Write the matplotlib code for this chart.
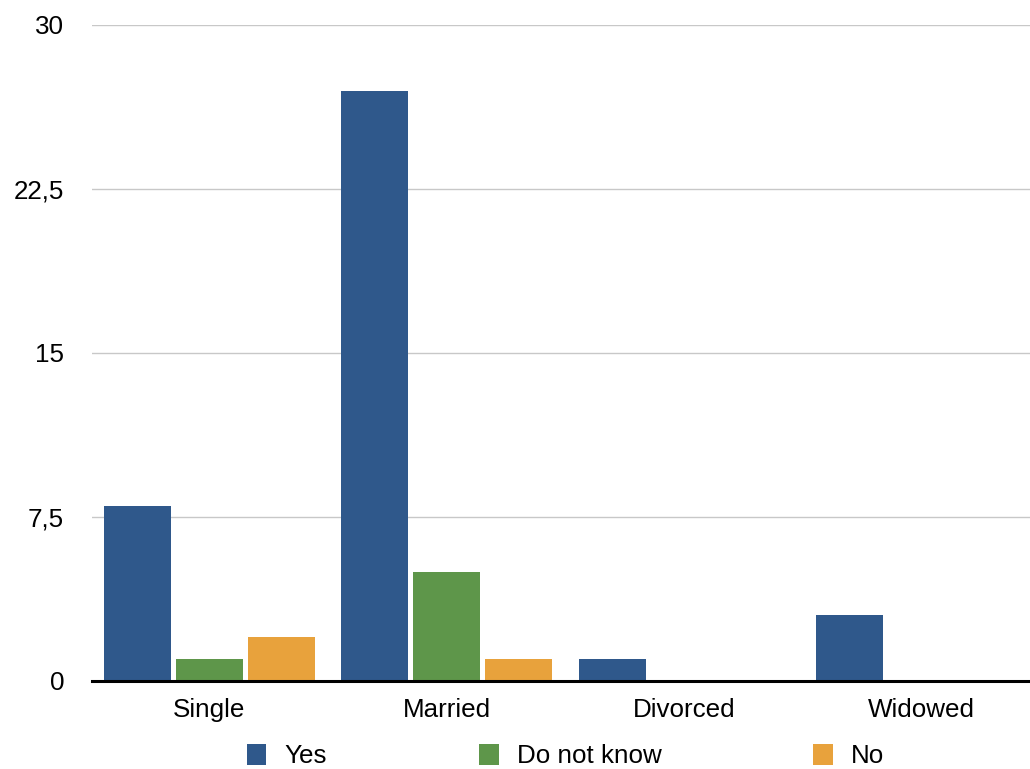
import numpy as np
import matplotlib
matplotlib.use('Agg')
from matplotlib import pyplot as plt
from matplotlib.ticker import FuncFormatter

plt.rcParams['font.family'] = ['Liberation Sans', 'DejaVu Sans']

categories = ['Single', 'Married', 'Divorced', 'Widowed']
yes = [8, 27, 1, 3]
dont_know = [1, 5, 0, 0]
no = [2, 1, 0, 0]
series_names = ['Yes', 'Do not know', 'No']
colors = ['#2F588B', '#5E964A', '#E8A23C']
yticks = [0, 7.5, 15, 22.5, 30]

fig = plt.figure(figsize=(10.30, 7.69), dpi=100)
ax = fig.add_axes([92 / 1030, 88 / 769, 1 - 92 / 1030, 656 / 769])

x = np.arange(len(categories))
pitch = 0.3034
width = 0.2823
for i, (vals, name, c) in enumerate(zip([yes, dont_know, no], series_names, colors)):
    ax.bar(x + (i - 1) * pitch, vals, width, color=c, label=name, zorder=3)

ax.set_xlim(-0.495, 3.458)
ax.set_ylim(0, 30)
ax.set_yticks(yticks)
ax.yaxis.set_major_formatter(FuncFormatter(lambda v, p: ('%g' % v).replace('.', ',')))
ax.set_xticks(x)
ax.set_xticklabels(categories)
ax.tick_params(axis='both', length=0, labelsize=18.7)
ax.tick_params(axis='y', pad=20)
ax.tick_params(axis='x', pad=12)
ax.grid(axis='y', color='#c8c8c8', linewidth=1, zorder=0)
ax.grid(axis='x', visible=False)

for s in ['top', 'right', 'left']:
    ax.spines[s].set_visible(False)
ax.spines['bottom'].set_linewidth(2.2)
ax.spines['bottom'].set_color('black')
ax.spines['bottom'].set_zorder(4)

ax.legend(loc='center left', bbox_to_anchor=(247 / 1030, 13 / 769),
          bbox_transform=fig.transFigure, ncol=3, frameon=False,
          fontsize=18.7, handlelength=0.75, handleheight=0.85,
          handletextpad=0.7, columnspacing=5.85, borderpad=0, borderaxespad=0)

fig.savefig('out.png', dpi=100)
